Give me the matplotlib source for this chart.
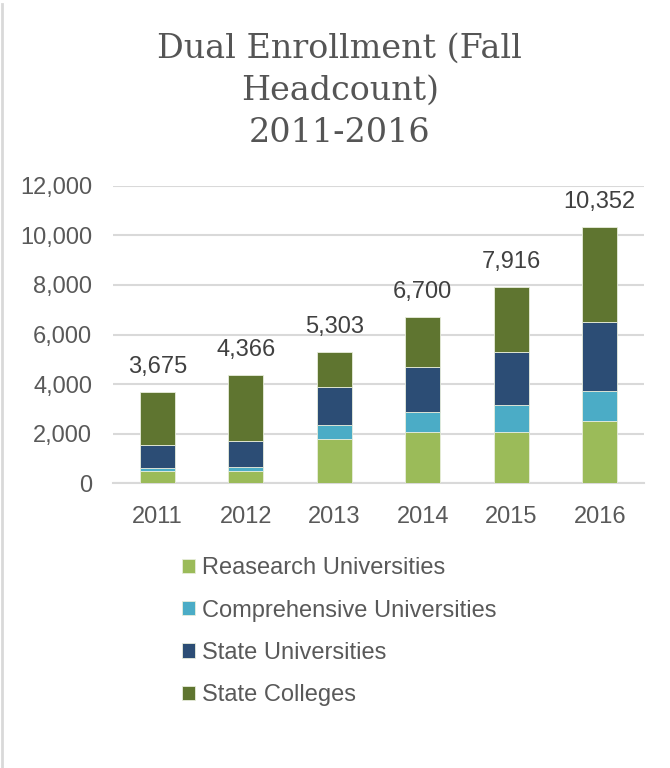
import matplotlib.pyplot as plt
import numpy as np
from matplotlib.lines import Line2D

plt.rcParams['font.family'] = ['Liberation Sans', 'DejaVu Sans']

# 各年份秋季双录取人数（按院校类型）
years = ['2011', '2012', '2013', '2014', '2015', '2016']
research = [480, 510, 1790, 2070, 2070, 2510]
comprehensive = [150, 160, 575, 820, 1080, 1225]
state_univ = [900, 1035, 1530, 1810, 2160, 2780]
state_colleges = [2145, 2661, 1408, 2000, 2606, 3837]
totals = [3675, 4366, 5303, 6700, 7916, 10352]

series = [
    ('Reasearch Universities', research, '#9BBB59'),
    ('Comprehensive Universities', comprehensive, '#4BACC6'),
    ('State Universities', state_univ, '#2C4D75'),
    ('State Colleges', state_colleges, '#5F7530'),
]

fig = plt.figure(figsize=(6.7, 7.68), dpi=100)
ax = fig.add_axes([0.1687, 0.3707, 0.7925, 0.3875])

x = np.arange(len(years))
bottom = np.zeros(len(years))
for name, vals, color in series:
    ax.bar(x, vals, 0.4, bottom=bottom, color=color, label=name,
           edgecolor='#e8eddc', linewidth=0.6, zorder=3)
    bottom += np.array(vals)

# 柱顶总数
for xi, t in zip(x, totals):
    ax.annotate(f'{t:,}', (xi, t), xytext=(0, 10), textcoords='offset points',
                ha='center', va='bottom', fontsize=17, color='#404040')

ax.set_xlim(-0.5, 5.5)
ax.set_ylim(0, 12000)
ax.set_yticks(range(0, 12001, 2000))
ax.set_yticklabels([f'{v:,}' for v in range(0, 12001, 2000)])
ax.set_xticks(x)
ax.set_xticklabels(years)
ax.tick_params(axis='both', length=0, labelsize=17, colors='#595959')
ax.tick_params(axis='y', pad=15)
ax.tick_params(axis='x', pad=16)
ax.grid(axis='y', color='#d9d9d9', linewidth=1.5, zorder=0)
for side in ['top', 'right', 'left']:
    ax.spines[side].set_visible(False)
ax.spines['bottom'].set_color('#d9d9d9')
ax.spines['bottom'].set_linewidth(1.5)

fig.text(0.507, 0.958, 'Dual Enrollment (Fall\nHeadcount)\n2011-2016',
         ha='center', va='top', fontsize=24, color='#555555',
         family='DejaVu Serif', linespacing=1.42)

leg = fig.legend(loc='upper left', bbox_to_anchor=(0.24, 0.302), frameon=False,
                 fontsize=17, handlelength=0.55, handleheight=0.55,
                 handletextpad=0.3, labelspacing=0.86)
for txt in leg.get_texts():
    txt.set_color('#595959')

# 左侧边框线
fig.add_artist(Line2D([0.003, 0.003], [0.0, 0.995], color='#d9d9d9', linewidth=2))

fig.savefig('out.png', dpi=100)
